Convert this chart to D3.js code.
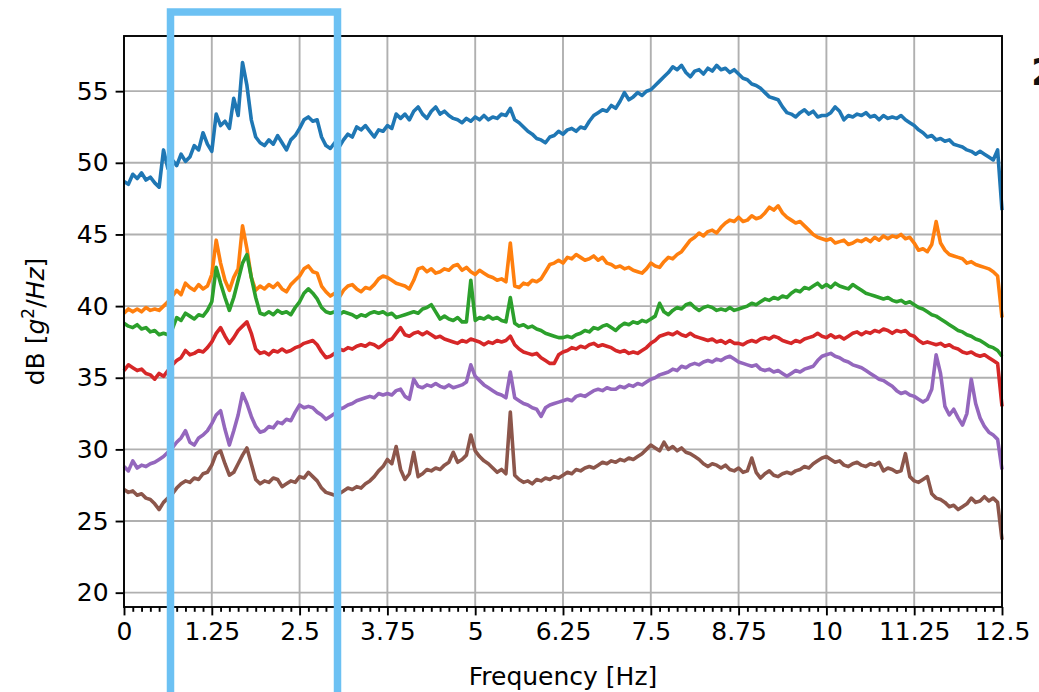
<!DOCTYPE html>
<html>
<head>
<meta charset="utf-8">
<script src="https://cdn.jsdelivr.net/npm/d3@7"></script>
<style>
  body { margin: 0; background: #fff; }
  text { font-family: "DejaVu Sans", sans-serif; }
</style>
</head>
<body>
<div id="vis-container"></div>
<script>
// PSD curves sampled every 0.0625 Hz (one row = one 1.25 Hz grid cell)
freqStep = 0.0625

ch1 = [
  48.7,48.5,49.2,48.9,49.3,48.8,49.0,48.6,48.3,50.9,49.6,50.2,49.8,50.6,50.1,50.4,51.2,50.9,52.1,51.3,
  50.8,53.4,52.6,52.9,52.4,54.5,53.3,57.0,55.4,53.0,51.8,51.4,51.2,51.6,51.3,51.9,51.4,50.9,51.6,51.9,
  52.4,53.0,53.2,52.9,53.0,51.8,51.2,51.0,51.4,51.1,51.6,52.0,51.8,52.5,52.3,52.6,52.2,51.8,52.3,52.2,
  52.6,52.4,53.4,53.1,53.4,53.0,53.6,53.9,53.4,53.1,53.6,53.9,53.4,53.6,53.3,53.1,53.0,52.8,53.1,52.9,
  53.2,53.0,53.3,53.0,53.2,53.1,53.4,53.3,53.8,53.0,52.8,52.5,52.2,52.0,51.7,51.6,51.4,51.8,51.9,52.2,
  52.0,52.3,52.4,52.2,52.5,52.4,52.9,53.3,53.5,53.7,53.6,54.0,53.8,54.3,54.9,54.4,54.6,54.9,54.7,55.0,
  55.1,55.4,55.7,56.0,56.3,56.7,56.5,56.8,56.3,56.0,56.4,56.5,56.2,56.6,56.4,56.8,56.5,56.6,56.3,56.5,
  56.2,55.9,55.8,55.5,55.4,55.2,54.9,54.6,54.5,54.4,53.9,53.5,53.4,53.2,53.5,53.7,53.4,53.6,53.2,53.3,
  53.3,53.5,53.9,53.6,53.0,53.3,53.2,53.4,53.3,53.5,53.2,53.3,53.0,53.3,53.1,53.2,53.1,53.3,53.0,52.8,
  52.6,52.3,52.1,51.8,51.9,51.6,51.7,51.5,51.6,51.3,51.2,51.1,50.9,50.8,50.6,50.8,50.6,50.4,50.2,50.9,
  46.7
]

ch2 = [
  39.5,39.8,39.6,39.8,39.6,39.9,39.7,39.8,39.7,40.0,40.3,40.7,41.1,40.8,41.6,41.3,41.1,41.5,41.2,41.4,
  42.2,44.6,43.0,41.8,41.1,42.0,42.6,45.6,44.0,42.0,41.1,41.4,41.2,41.5,41.3,41.6,41.2,41.0,41.5,41.8,
  42.1,42.6,42.8,42.4,42.3,41.4,41.0,40.7,40.9,40.6,41.1,41.4,41.5,41.2,41.0,41.3,41.2,41.5,41.9,42.1,
  42.0,41.8,41.6,41.5,41.4,41.2,41.8,42.6,42.7,42.4,42.6,42.3,42.4,42.6,42.5,42.8,42.9,42.5,42.7,42.4,
  42.2,42.5,42.3,42.1,42.0,41.8,41.9,41.7,44.4,41.4,41.3,41.6,41.5,41.8,41.7,41.9,42.4,42.9,43.0,43.2,
  43.0,43.4,43.3,43.6,43.4,43.2,43.3,43.5,43.2,43.4,43.0,42.9,42.7,42.8,42.6,42.7,42.5,42.4,42.3,42.6,
  43.0,42.8,42.7,43.1,43.4,43.3,43.6,43.8,44.2,44.6,44.8,45.1,44.9,45.2,45.3,45.1,45.5,45.8,46.0,45.9,
  46.2,45.9,46.0,46.3,46.1,46.2,46.5,46.9,46.7,47.0,46.5,46.2,46.0,45.8,45.9,45.6,45.3,45.0,44.8,44.7,
  44.6,44.7,44.4,44.5,44.6,44.3,44.4,44.6,44.5,44.7,44.5,44.8,44.6,44.9,44.7,44.9,44.8,45.0,44.7,44.8,
  44.4,43.9,44.0,43.8,44.3,45.9,44.4,43.9,43.6,43.5,43.4,43.3,43.0,43.1,42.9,42.8,42.7,42.6,42.4,42.1,
  39.2
]

ch3 = [
  38.8,38.6,38.5,38.7,38.4,38.5,38.2,38.3,38.0,38.1,38.0,38.4,39.2,39.0,39.5,39.3,39.1,39.4,39.3,39.7,
  40.3,42.7,41.6,40.6,39.7,40.6,41.8,43.0,43.6,42.0,40.6,39.5,39.4,39.6,39.4,39.7,39.5,39.6,39.4,39.9,
  40.3,40.9,41.2,40.9,40.5,39.9,39.6,39.5,39.6,39.4,39.6,39.5,39.4,39.2,39.4,39.3,39.5,39.6,39.5,39.6,
  39.4,39.5,39.2,39.3,39.4,39.5,39.6,39.5,39.8,39.9,40.1,39.6,39.1,39.3,39.1,39.0,39.2,38.9,38.9,41.8,
  39.0,39.2,39.1,39.3,39.1,39.2,39.0,38.9,40.6,38.8,38.6,38.7,38.5,38.6,38.4,38.3,38.1,38.0,37.9,37.8,
  37.8,37.9,37.8,38.0,38.1,38.3,38.2,38.5,38.4,38.6,38.7,38.5,38.3,38.6,38.8,38.7,38.9,38.8,39.0,38.9,
  39.1,39.3,40.2,39.6,39.4,39.7,39.9,39.8,40.1,40.2,39.9,39.7,39.9,40.0,39.9,39.7,39.8,39.7,39.9,39.7,
  39.8,39.9,40.0,40.2,40.1,40.3,40.5,40.4,40.6,40.5,40.7,40.6,40.9,41.1,41.0,41.3,41.2,41.4,41.6,41.3,
  41.5,41.3,41.6,41.4,41.3,41.2,41.5,41.3,41.1,40.9,40.8,40.7,40.6,40.5,40.6,40.4,40.3,40.4,40.2,40.3,
  40.1,39.9,39.8,39.6,39.4,39.3,39.1,38.9,38.7,38.5,38.3,38.2,38.0,37.9,37.7,37.6,37.4,37.2,37.1,36.9,
  36.5
]

ch4 = [
  35.5,35.9,35.7,35.5,35.6,35.3,35.2,34.9,35.3,35.1,35.5,35.9,36.2,36.4,36.9,36.6,36.7,36.9,36.8,37.1,
  37.5,38.1,38.5,37.9,37.4,37.8,38.3,38.6,38.9,38.1,37.0,36.7,36.8,36.6,36.9,36.8,37.0,36.8,36.9,37.1,
  37.2,37.4,37.5,37.6,37.3,36.8,36.4,36.5,36.7,37.0,36.9,37.1,37.0,37.2,37.3,37.2,37.4,37.3,37.1,37.3,
  37.6,37.7,38.1,38.5,38.0,37.9,38.1,38.2,38.0,38.2,38.0,37.8,37.9,37.7,37.6,37.5,37.4,37.6,37.5,37.7,
  37.6,37.5,37.3,37.5,37.4,37.6,37.5,37.6,37.9,37.3,37.0,36.8,36.7,36.6,36.7,36.4,36.2,36.0,36.0,36.6,
  36.8,36.9,37.1,37.0,37.2,37.1,37.3,37.4,37.2,37.3,37.2,37.1,36.9,36.8,36.9,36.7,36.8,36.7,36.9,37.1,
  37.4,37.6,37.9,38.0,38.1,38.0,38.2,38.0,37.9,38.1,37.9,37.8,37.7,37.6,37.7,37.5,37.6,37.4,37.6,37.4,
  37.4,37.3,37.5,37.6,37.5,37.7,37.8,37.7,37.9,37.8,37.6,37.5,37.4,37.6,37.5,37.7,37.8,37.9,38.1,37.9,
  37.8,38.0,37.8,37.9,37.7,37.9,38.1,38.2,38.0,38.2,38.1,38.3,38.2,38.4,38.3,38.1,38.3,38.2,38.3,38.0,
  37.9,37.6,37.4,37.5,37.4,37.3,37.4,37.2,37.3,37.1,37.0,36.8,36.7,36.8,36.6,36.5,36.6,36.4,36.2,36.0,
  33.0
]

ch5 = [
  28.8,28.5,29.2,28.7,28.9,28.8,29.0,29.1,29.3,29.5,29.8,30.1,30.5,30.8,31.3,30.5,30.3,30.8,31.0,31.3,
  31.8,32.4,32.7,31.4,30.3,31.3,32.4,33.9,33.2,32.3,31.6,31.2,31.3,31.6,31.5,31.9,31.8,32.1,32.0,32.6,
  33.1,32.9,33.0,32.9,32.6,32.4,32.1,32.3,32.5,32.8,32.9,33.1,33.2,33.4,33.5,33.6,33.7,33.6,33.9,33.8,
  33.9,33.8,34.1,34.2,33.7,33.5,34.9,34.4,34.3,34.5,34.4,34.6,34.4,34.3,34.5,34.3,34.4,34.5,34.7,35.9,
  35.1,34.8,34.5,34.3,34.1,33.9,33.8,33.6,35.4,33.6,33.4,33.2,33.1,32.9,32.8,32.3,32.9,33.1,33.2,33.3,
  33.4,33.5,33.4,33.7,33.8,33.7,33.9,34.1,34.2,34.1,34.3,34.2,34.2,34.4,34.3,34.5,34.4,34.6,34.5,34.7,
  34.9,35.0,35.2,35.3,35.4,35.6,35.5,35.8,35.7,35.9,36.0,35.9,36.1,36.2,36.1,36.3,36.2,36.4,36.5,36.3,
  36.1,36.0,35.9,35.8,35.9,35.6,35.5,35.6,35.4,35.5,35.3,35.1,35.3,35.5,35.4,35.6,35.7,35.8,36.2,36.5,
  36.6,36.7,36.5,36.4,36.2,36.1,35.9,35.8,35.7,35.5,35.3,35.1,34.9,34.8,34.6,34.4,34.1,33.9,34.0,33.8,
  33.7,33.5,33.3,33.5,34.2,36.6,35.3,33.0,32.4,32.8,32.2,31.7,32.5,34.9,33.2,32.2,31.6,31.2,31.0,30.7,
  28.6
]

ch6 = [
  27.2,27.0,27.1,26.8,26.9,26.6,26.5,26.2,25.8,26.3,26.6,26.9,27.3,27.6,27.8,27.7,28.0,27.9,28.3,28.4,
  28.9,29.7,29.9,29.0,28.2,28.4,29.0,29.6,30.1,29.0,27.9,27.6,27.8,27.7,28.0,27.9,27.4,27.6,27.8,27.7,
  28.1,28.0,28.4,28.1,27.8,27.3,27.0,26.9,26.8,26.9,27.1,27.3,27.2,27.4,27.3,27.6,27.8,28.1,28.5,28.8,
  29.3,29.0,30.2,28.6,27.9,28.3,29.8,28.1,28.3,28.6,28.5,28.7,28.6,28.9,29.1,29.8,29.1,29.3,29.6,31.0,
  29.9,29.5,29.2,29.0,28.7,28.4,28.6,28.3,32.6,28.2,27.9,27.7,27.8,27.6,27.9,27.8,28.0,27.9,28.1,28.0,
  28.2,28.4,28.3,28.6,28.5,28.7,28.8,28.7,28.9,29.1,29.0,29.2,29.1,29.3,29.2,29.4,29.3,29.5,29.7,30.0,
  30.3,30.1,29.9,30.5,30.0,30.2,29.9,30.1,29.8,29.7,29.5,29.3,29.0,28.8,29.0,28.9,28.7,28.9,28.6,28.5,
  28.7,28.4,28.5,29.4,28.4,28.0,28.3,28.5,28.2,28.1,28.3,28.4,28.3,28.5,28.6,28.8,28.7,29.0,29.2,29.4,
  29.5,29.3,29.1,29.2,28.9,28.8,29.0,29.1,28.9,28.8,29.0,28.9,29.1,28.5,28.7,28.6,28.4,28.5,29.7,28.1,
  27.8,27.7,27.9,28.1,26.9,26.6,26.5,26.3,26.0,26.1,25.8,26.0,26.2,26.6,26.3,26.4,26.7,26.4,26.6,26.3,
  23.7
]

allSeries = [ch1, ch2, ch3, ch4, ch5, ch6]
colors = ["#1f77b4","#ff7f0e","#2ca02c","#d62728","#9467bd","#8c564b"]

xTicks = [0,1.25,2.5,3.75,5,6.25,7.5,8.75,10,11.25,12.5]
xTickLabels = ["0","1.25","2.5","3.75","5","6.25","7.5","8.75","10","11.25","12.5"]
yTicks = [20,25,30,35,40,45,50,55]

chart = {
  "width": 1039, "height": 692,
  "left": 124, "right": 1002, "top": 36, "bottom": 607
}

x = d3.scaleLinear().domain([0,12.5]).range([chart.left, chart.right])
y = d3.scaleLinear().domain([19,58.85]).range([chart.bottom, chart.top])

svg = d3.select("#vis-container").append("svg")
  .attr("width", chart.width).attr("height", chart.height)
  .style("background","#fff")

// grid
svg.append("g").selectAll("line").data(xTicks).enter().append("line")
  .attr("x1", d => x(d)).attr("x2", d => x(d))
  .attr("y1", chart.top).attr("y2", chart.bottom)
  .attr("stroke","#b0b0b0").attr("stroke-width",1.9)
svg.append("g").selectAll("line").data(yTicks).enter().append("line")
  .attr("x1", chart.left).attr("x2", chart.right)
  .attr("y1", d => y(d)).attr("y2", d => y(d))
  .attr("stroke","#b0b0b0").attr("stroke-width",1.9)

// curves
line = d3.line().x((d,i) => x(i * freqStep)).y(d => y(d))
svg.append("g").selectAll("path").data(allSeries).enter().append("path")
  .attr("d", d => line(d))
  .attr("fill","none")
  .attr("stroke",(d,i) => colors[i])
  .attr("stroke-width",3.6)
  .attr("stroke-linejoin","round")

// axes
minorTicks = d3.range(0, 101).map(i => i * 0.125).filter(v => xTicks.indexOf(v) < 0)

xAxis = svg.append("g").attr("transform","translate(0," + chart.bottom + ")")
  .call(d3.axisBottom(x).tickValues(xTicks).tickFormat((d,i) => xTickLabels[i]).tickSize(8.4).tickPadding(7))
svg.append("g").attr("transform","translate(0," + chart.bottom + ")")
  .call(d3.axisBottom(x).tickValues(minorTicks).tickFormat("").tickSize(4.8))
  .select(".domain").remove()
yAxis = svg.append("g").attr("transform","translate(" + chart.left + ",0)")
  .call(d3.axisLeft(y).tickValues(yTicks).tickSize(8.4).tickPadding(7))

svg.selectAll(".domain").remove()
svg.selectAll(".tick line").attr("stroke","#000").attr("stroke-width",1.9)
svg.selectAll(".tick text").attr("fill","#000").style("font-size","25px").style("font-family","DejaVu Sans")

// frame
svg.append("rect")
  .attr("x", chart.left).attr("y", chart.top)
  .attr("width", chart.right - chart.left).attr("height", chart.bottom - chart.top)
  .attr("fill","none").attr("stroke","#000").attr("stroke-width",1.9)

// axis labels
svg.append("text")
  .attr("x", (chart.left + chart.right) / 2).attr("y", 685)
  .attr("text-anchor","middle").style("font-size","25px").attr("fill","#000")
  .text("Frequency [Hz]")

ylab = svg.append("text")
  .attr("transform","translate(44," + ((chart.top + chart.bottom) / 2) + ") rotate(-90)")
  .attr("text-anchor","middle").style("font-size","25px").attr("fill","#000")
ylab.append("tspan").text("dB [")
ylab.append("tspan").style("font-style","italic").text("g")
ylab.append("tspan").style("font-size","17px").attr("dy",-10).text("2")
ylab.append("tspan").attr("dy",10).text("/")
ylab.append("tspan").style("font-style","italic").text("Hz")
ylab.append("tspan").text("]")

// cropped glyph at the right edge, as in the source image
svg.append("text").attr("x",1031).attr("y",85)
  .style("font-size","38px").style("font-weight","bold").attr("fill","#111").text("2")

// highlight box
svg.append("rect")
  .attr("x",170.5).attr("y",12).attr("width",167).attr("height",720)
  .attr("fill","none").attr("stroke","#6cc1f3").attr("stroke-width",7.5)
</script>
</body>
</html>
